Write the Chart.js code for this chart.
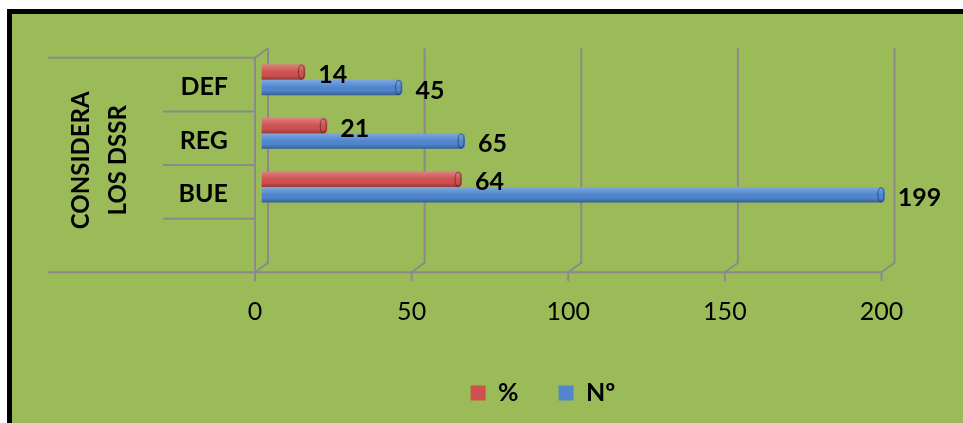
<!DOCTYPE html>
<html>
<head>
<meta charset="utf-8">
<script src="https://cdn.jsdelivr.net/npm/chart.js@4/dist/chart.umd.min.js"></script>
<style>
  html, body { margin: 0; padding: 0; background: #ffffff; overflow: hidden; width: 963px; height: 423px; }
  #frame { position: absolute; left: 7px; top: 9px; width: 2000px; height: 2000px;
           border-left: 5px solid #000; border-top: 5px solid #000; background: #9BBB59; }
  #wrap { position: absolute; left: 0; top: 0; width: 963px; height: 423px; }
</style>
</head>
<body>
<div id="frame"></div>
<div id="wrap"><canvas id="c" width="963" height="423"></canvas></div>
<script>
// ---- data ----
const categories = ['DEF', 'REG', 'BUE', ''];
const groupTitle = ['CONSIDERA', 'LOS DSSR'];
const seriesNames = ['%', 'Nº'];
const pctValues = [14, 21, 64, null];
const numValues = [45, 65, 199, null];
const xTicks = [0, 50, 100, 150, 200];

// ---- style ----
const FONT = 'Lato, "Open Sans", "DejaVu Sans", sans-serif';
const RED = '#D0504F';
const BLUE = '#4F86CF';
const GRID = '#8A8A8A';
const DX = 6.5, DY = 4.75;       // 3D depth offsets
const OUTER_LEFT = 48, SUB_LEFT = 163;

const grid3d = {
  id: 'grid3d',
  beforeDatasetsDraw(chart) {
    const {ctx, chartArea: a, scales: {x, y}} = chart;
    ctx.save();
    ctx.strokeStyle = GRID;
    ctx.lineWidth = 2;
    ctx.lineJoin = 'miter';
    const fb = a.bottom + DY, bb = a.bottom - DY, bt = a.top - DY, ft = a.top + DY;
    xTicks.forEach(v => {
      const px = x.getPixelForValue(v);
      ctx.beginPath();
      ctx.moveTo(px + DX, bt);
      ctx.lineTo(px + DX, bb);
      ctx.lineTo(px - DX, fb);
      ctx.lineTo(px - DX, fb + 9);
      ctx.stroke();
    });
    ctx.beginPath();
    ctx.moveTo(OUTER_LEFT, fb);
    ctx.lineTo(x.getPixelForValue(xTicks[xTicks.length - 1]) - DX, fb);
    ctx.stroke();
    const lx = a.left - DX;
    ctx.beginPath();
    ctx.moveTo(OUTER_LEFT, ft);
    ctx.lineTo(lx, ft);
    ctx.lineTo(a.left + DX, bt);
    ctx.moveTo(lx, ft);
    ctx.lineTo(lx, fb);
    ctx.stroke();
    for (let i = 1; i < categories.length; i++) {
      const yy = (y.getPixelForValue(i - 1) + y.getPixelForValue(i)) / 2 + DY;
      ctx.beginPath();
      ctx.moveTo(SUB_LEFT, yy);
      ctx.lineTo(lx, yy);
      ctx.stroke();
    }
    ctx.restore();
  }
};

const barShade = {
  id: 'barShade',
  afterDatasetsDraw(chart) {
    const {ctx} = chart;
    chart.data.datasets.forEach((ds, di) => {
      const meta = chart.getDatasetMeta(di);
      meta.data.forEach((el, i) => {
        if (ds.data[i] == null) return;
        const {x, y, base, height} = el.getProps(['x', 'y', 'base', 'height'], true);
        const t = y - height / 2, b = y + height / 2;
        const g = ctx.createLinearGradient(0, t, 0, b);
        g.addColorStop(0, 'rgba(255,255,255,0.28)');
        g.addColorStop(0.35, 'rgba(255,255,255,0.08)');
        g.addColorStop(0.7, 'rgba(0,0,0,0.0)');
        g.addColorStop(1, 'rgba(0,0,0,0.30)');
        ctx.save();
        ctx.fillStyle = g;
        ctx.beginPath();
        ctx.moveTo(base, t);
        ctx.lineTo(x - 4, t);
        ctx.ellipse(x - 4, y, 4, height / 2, 0, -Math.PI / 2, Math.PI / 2);
        ctx.lineTo(base, b);
        ctx.closePath();
        ctx.fill();
        ctx.strokeStyle = 'rgba(0,0,0,0.35)';
        ctx.lineWidth = 1.2;
        ctx.beginPath();
        ctx.ellipse(x - 4, y, 3, height / 2 - 0.5, 0, 0, Math.PI * 2);
        ctx.stroke();
        ctx.restore();
      });
    });
  }
};

const valueLabels = {
  id: 'valueLabels',
  afterDatasetsDraw(chart) {
    const {ctx} = chart;
    ctx.save();
    ctx.font = 'bold 25px ' + FONT;
    ctx.fillStyle = '#000';
    ctx.textAlign = 'left';
    ctx.textBaseline = 'middle';
    chart.data.datasets.forEach((ds, di) => {
      const meta = chart.getDatasetMeta(di);
      meta.data.forEach((el, i) => {
        const v = ds.data[i];
        if (v == null) return;
        const {x, y} = el.getProps(['x', 'y'], true);
        ctx.fillText(String(v), x + 13, y + 3);
      });
    });
    ctx.restore();
  }
};

const legendShift = {
  id: 'legendShift',
  afterLayout(chart) {
    const L = chart.legend;
    if (L) { L.left += 94; L.right += 94; }
  }
};

new Chart(document.getElementById('c'), {
  type: 'bar',
  data: {
    labels: categories,
    datasets: [
      { label: seriesNames[0], data: pctValues, backgroundColor: RED, borderWidth: 0,
        borderRadius: 4, borderSkipped: 'start' },
      { label: seriesNames[1], data: numValues, backgroundColor: BLUE, borderWidth: 0,
        borderRadius: 4, borderSkipped: 'start' }
    ]
  },
  options: {
    indexAxis: 'y',
    responsive: false,
    animation: false,
    devicePixelRatio: 1,
    layout: { padding: { left: 10, right: 75, top: 53, bottom: 7.5 } },
    datasets: { bar: { categoryPercentage: 0.5725, barPercentage: 1 } },
    scales: {
      x: {
        min: 0, max: 200,
        afterBuildTicks(s) { s.ticks = xTicks.map(v => ({ value: v })); },
        afterFit(s) { s.height = 73; },
        grid: { display: false, drawTicks: false },
        border: { display: false },
        ticks: { color: '#000', padding: 29, labelOffset: -6.5, font: { family: FONT, size: 25 } }
      },
      y: {
        afterFit(s) { s.width = 251.5; },
        grid: { display: false, drawTicks: false },
        border: { display: false },
        ticks: { color: '#000', padding: 33.5, labelOffset: 7, crossAlign: 'near',
                 font: { family: FONT, size: 25, weight: 'bold' } },
        title: { display: true, text: groupTitle, color: '#000',
                 padding: { top: 53, bottom: 0 },
                 font: { family: FONT, size: 24, weight: 'bold', lineHeight: '37px' } }
      }
    },
    plugins: {
      legend: {
        position: 'bottom',
        labels: { color: '#000', boxWidth: 15, boxHeight: 15, padding: 40,
                  font: { family: FONT, size: 25, weight: 'bold' } }
      },
      tooltip: { enabled: false },
      title: { display: false }
    }
  },
  plugins: [grid3d, barShade, valueLabels, legendShift]
});
</script>
</body>
</html>
